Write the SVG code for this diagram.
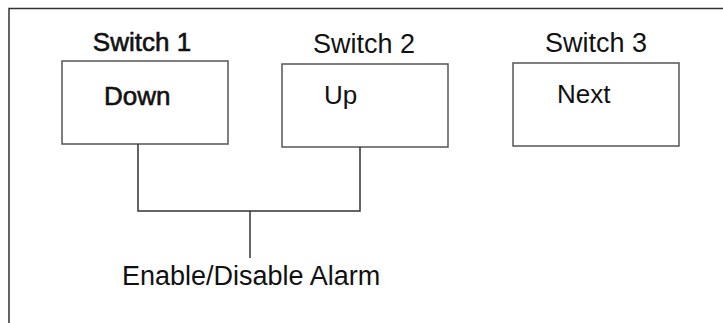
<svg xmlns="http://www.w3.org/2000/svg" width="723" height="323" viewBox="0 0 723 323">
  <style>
    .frame { stroke: #333; stroke-width: 1.5; fill: none; }
    .box { fill: #fff; stroke: #555; stroke-width: 1.5; }
    .wire { stroke: #333; stroke-width: 1.5; fill: none; }
    text { font-family: "Liberation Sans", Arial, sans-serif; font-size: 26px; fill: #111; }
    .title { font-size: 27px; }
    .heavy { stroke: #111; stroke-width: 0.6; }
  </style>
  <rect width="723" height="323" fill="#fff"/>
  <!-- panel frame: top and left edges only -->
  <path class="frame" d="M9,323 V8.5 H723"/>

  <g id="switch1">
    <rect class="box" x="62" y="61" width="166" height="83"/>
    <text class="heavy" x="142" y="51" text-anchor="middle">Switch 1</text>
    <text class="heavy" x="104" y="105">Down</text>
  </g>
  <g id="switch2">
    <rect class="box" x="282" y="64" width="166" height="83"/>
    <text class="title" x="364" y="53" text-anchor="middle">Switch 2</text>
    <text x="324" y="104">Up</text>
  </g>
  <g id="switch3">
    <rect class="box" x="513" y="63" width="166" height="83"/>
    <text class="title" x="596" y="52" text-anchor="middle">Switch 3</text>
    <text x="557" y="103">Next</text>
  </g>

  <g id="connectors">
    <path class="wire" d="M138,144 V211 H360 V147"/>
    <path class="wire" d="M250,211 V258"/>
  </g>
  <g id="label">
    <text class="title" x="122" y="285">Enable/Disable Alarm</text>
  </g>
</svg>
